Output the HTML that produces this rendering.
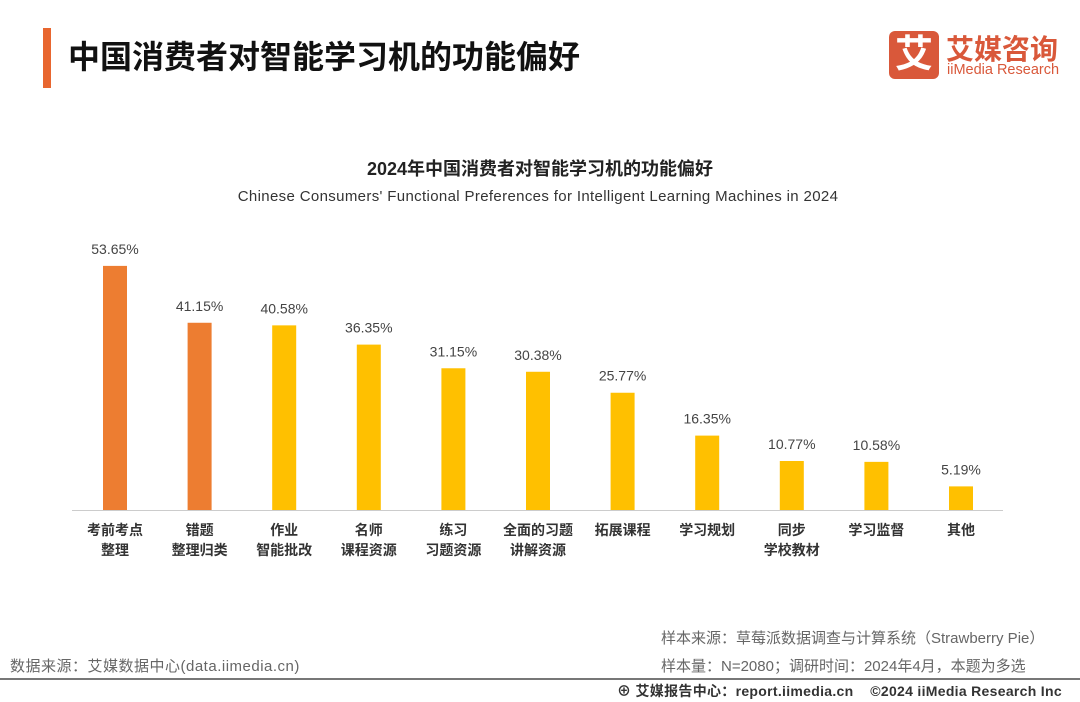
<!DOCTYPE html>
<html><head><meta charset="utf-8">
<style>
body{margin:0;width:1080px;height:702px;background:#fff;overflow:hidden;font-family:"Liberation Sans","Noto Sans CJK SC",sans-serif;position:relative}
.a{position:absolute;white-space:nowrap}
</style></head><body>
<div class="a" style="left:43px;top:28px;width:8px;height:60px;background:#E8662F"></div>
<div class="a" style="left:68px;top:32px;font-size:32px;font-weight:bold;color:#111">中国消费者对智能学习机的功能偏好</div>
<div class="a" style="left:889px;top:31px;width:50px;height:48px;background:#D9583A;border-radius:6px;color:#fff;font-size:38px;font-weight:bold;text-align:center;line-height:48px">艾</div>
<div class="a" style="left:946px;top:28px;font-size:28px;font-weight:bold;color:#D9583A">艾媒咨询</div>
<div class="a" style="left:947px;top:62px;font-size:14.5px;color:#D9583A">iiMedia Research</div>
<div class="a" style="left:0;width:1080px;text-align:center;top:155px;font-size:18px;font-weight:bold;color:#222">2024年中国消费者对智能学习机的功能偏好</div>
<div class="a" style="left:0;width:1076px;text-align:center;top:188px;font-size:15px;letter-spacing:0.35px;color:#333">Chinese Consumers' Functional Preferences for Intelligent Learning Machines in 2024</div>
<svg class="a" style="left:0;top:0" width="1080" height="702" id="chart"></svg>
<div class="a" style="left:661px;top:627px;font-size:15px;color:#666">样本来源：草莓派数据调查与计算系统（Strawberry Pie）</div>
<div class="a" style="left:661px;top:655px;font-size:15px;color:#666">样本量：N=2080；调研时间：2024年4月，本题为多选</div>
<div class="a" style="left:10px;top:655px;font-size:15px;letter-spacing:0.5px;color:#666">数据来源：艾媒数据中心(data.iimedia.cn)</div>
<div class="a" style="left:0;top:678px;width:1080px;height:2px;background:#777"></div>
<div class="a" style="left:617px;top:681px;font-size:14px;letter-spacing:0.3px;color:#333;font-weight:bold">⊕ 艾媒报告中心：report.iimedia.cn &nbsp;&nbsp;&nbsp;©2024 iiMedia Research Inc</div>
<script>
const categories=[["考前考点","整理"],["错题","整理归类"],["作业","智能批改"],["名师","课程资源"],["练习","习题资源"],["全面的习题","讲解资源"],["拓展课程"],["学习规划"],["同步","学校教材"],["学习监督"],["其他"]];
const values=[53.65,41.15,40.58,36.35,31.15,30.38,25.77,16.35,10.77,10.58,5.19];
const highlighted=[true,true,false,false,false,false,false,false,false,false,false];
const svg=document.getElementById('chart');const NS='http://www.w3.org/2000/svg';
const x0=115,step=84.6,base=510,scale=4.55,bw=24;
const xf=i=>x0+i*step, yf=v=>base-v*scale;
const ax=document.createElementNS(NS,'line');
ax.setAttribute('x1',72);ax.setAttribute('x2',1003);ax.setAttribute('y1',base+0.5);ax.setAttribute('y2',base+0.5);ax.setAttribute('stroke','#ccc');


svg.appendChild(ax);
values.forEach((v,i)=>{
const r=document.createElementNS(NS,'rect');
r.setAttribute('x',xf(i)-bw/2);r.setAttribute('y',yf(v));r.setAttribute('width',bw);r.setAttribute('height',base-yf(v));
r.setAttribute('fill',highlighted[i]?'#ED7D31':'#FFC000');


svg.appendChild(r);
const t=document.createElementNS(NS,'text');
t.setAttribute('x',xf(i));t.setAttribute('y',yf(v)-12);t.setAttribute('text-anchor','middle');t.setAttribute('font-size','14');t.setAttribute('fill','#444');
t.textContent=v.toFixed(2)+'%';


svg.appendChild(t);
categories[i].forEach((s,j)=>{
const c=document.createElementNS(NS,'text');
c.setAttribute('x',xf(i));c.setAttribute('y',535+j*20);c.setAttribute('text-anchor','middle');c.setAttribute('font-size','14');c.setAttribute('font-weight','bold');c.setAttribute('fill','#333');
c.textContent=s;


svg.appendChild(c);
});
});
</script>
</body></html>
